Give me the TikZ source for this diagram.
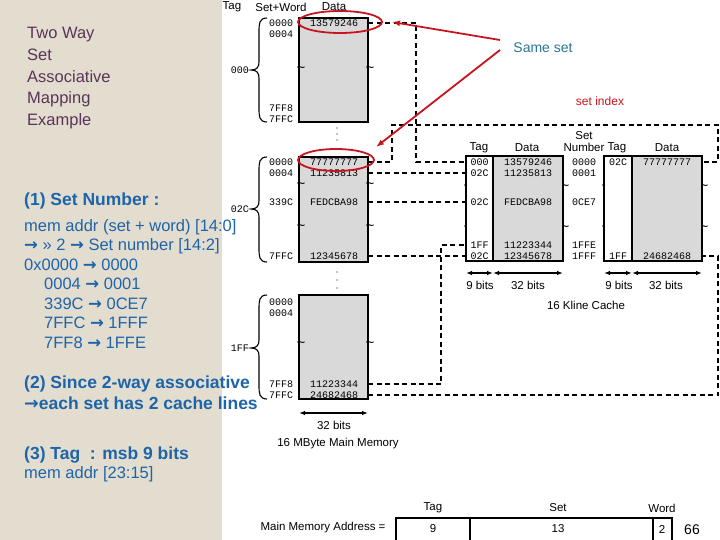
\documentclass[tikz,border=0pt]{standalone}
\usepackage{fontspec}
\setmainfont{Liberation Sans}
\newfontfamily\monof{Liberation Mono}
\newfontfamily\arrf{DejaVu Sans}
\newcommand{\ar}{{\arrf\bfseries →}}
\usetikzlibrary{arrows.meta}
\definecolor{beige}{HTML}{E3DDD0}
\definecolor{ttl}{HTML}{5A3458}
\definecolor{blu}{HTML}{1E64A8}
\definecolor{tealc}{HTML}{2C7590}
\definecolor{redc}{HTML}{C8141E}
\definecolor{blkfill}{HTML}{D9D9D9}
\tikzset{
 mem/.style={draw,line width=1.3pt,fill=blkfill,inner sep=0pt},
 tagbox/.style={draw,line width=1.3pt,fill=white,inner sep=0pt},
 mono/.style={font=\monof\fontsize{10}{10}\selectfont,inner sep=0pt},
 lbl/.style={font=\fontsize{11.5}{12}\selectfont,inner sep=0pt},
 dl/.style={dashed,dash pattern=on 5pt off 3.5pt,line width=1.3pt},
 wid/.style={{Latex[length=6pt]}-{Latex[length=6pt]},line width=1.3pt},
 til/.style={font=\fontsize{15}{15}\selectfont,inner sep=0pt},
 bt/.style={text=blu,font=\fontsize{16.5}{19.5}\selectfont,inner sep=0pt,anchor=west,align=left},
 redline/.style={draw=redc,line width=1.8pt},
}
\begin{document}
\begin{tikzpicture}[x=1pt,y=-1pt]
\useasboundingbox (0,0) rectangle (720,540);
\fill[beige] (0,0) rectangle (222,540);
% title
\node[text=ttl,font=\fontsize{16.5}{21.8}\selectfont,align=left,anchor=north west,inner sep=0pt] (title) at (27,27) {Two Way\\Set\\Associative\\Mapping\\Example};
% left text
\node[bt,font=\bfseries\fontsize{17.5}{20}\selectfont] (t1) at (24,201) {(1) Set Number :};
\node[bt,anchor=north west] (t1b) at (24,219) {mem addr (set + word) [14:0]\\\ar{} >> 2 \ar{} Set number [14:2]\\0x0000 \ar{} 0000\\\hspace{20pt}0004 \ar{} 0001\\\hspace{20pt}339C \ar{} 0CE7\\\hspace{20pt}7FFC \ar{} 1FFF\\\hspace{20pt}7FF8 \ar{} 1FFE};
\node[bt,anchor=north west,font=\bfseries\fontsize{17.5}{21}\selectfont] (t2) at (24,376) {(2) Since 2-way associative\\\ar{}each set has 2 cache lines};
\node[bt,font=\bfseries\fontsize{17.5}{20}\selectfont] (t3) at (24,455) {(3) Tag \ : msb 9 bits};
\node[bt] (t3b) at (24,474) {mem addr [23:15]};
% main memory headers
\node[lbl] (hT) at (232,7) {Tag};
\node[lbl] (hSW) at (281,7) {Set+Word};
\node[lbl] (hD) at (334,7) {Data};
% blocks
\node[mem,minimum width=69pt,minimum height=104pt] (b1) at (333.5,70) {};
\node[mem,minimum width=69pt,minimum height=105pt] (b2) at (333.5,209.5) {};
\node[mem,minimum width=69pt,minimum height=104pt] (b3) at (333.5,347) {};
% braces
\foreach \ya/\yb/\ym/\t [count=\i] in {18/122/70/000,157/262/209/02C,295/399/348/1FF}{
 \draw[line width=1.1pt] (267,\ya) .. controls (259,\ya) and (259,\ya+6) .. (259,\ya+14) -- (259,\ym-8) .. controls (259,\ym-3) and (257,\ym) .. (251,\ym) .. controls (257,\ym) and (259,\ym+3) .. (259,\ym+8) -- (259,\yb-14) .. controls (259,\yb-6) and (259,\yb) .. (267,\yb);
 \node[mono,anchor=east] (br\i) at (249,\ym) {\t};
}
% address labels
\foreach \y/\t in {23/0000,34/0004,108/7FF8,119/7FFC,162/0000,173/0004,202/339C,256/7FFC,302/0000,313/0004,384/7FF8,395/7FFC}
 \node[mono,anchor=west] at (269,\y) {\t};
% data in blocks
\foreach \y/\t in {23/13579246,162/77777777,173/11235813,202/FEDCBA98,256/12345678,384/11223344,395/24682468}
 \node[mono] at (334,\y) {\t};
% tildes
\foreach \x/\y in {299/67,368/67,299/183,368/183,299/225,368/225,299/342,368/342,466/185,563/185,604/185,702/185,466/226,563/226,604/226,702/226}
 \node[til] at (\x+2,\y+3) {\textasciitilde};
% dots
\foreach \y in {128,134,140,272,280,288} \fill (337,\y) circle (0.7);
% memory width
\coordinate (mw1) at (299,413); \coordinate (mw2) at (368,413);
\draw[wid] (mw1) -- (mw2);
\node[lbl] (m32) at (334,425) {32 bits};
\node[lbl] (mmcap) at (338,444) {16 MByte Main Memory};
% cache
\node[tagbox,minimum width=27pt,minimum height=105pt] (ct1) at (479.5,208.5) {};
\node[mem,minimum width=70pt,minimum height=105pt] (cd1) at (528,208.5) {};
\node[tagbox,minimum width=28pt,minimum height=105pt] (ct2) at (618,208.5) {};
\node[mem,minimum width=70pt,minimum height=105pt] (cd2) at (667,208.5) {};
\node[lbl] at (479,148) {Tag};
\node[lbl] at (527,148) {Data};
\node[lbl,align=center,font=\fontsize{11.5}{12}\selectfont] at (584,142) {Set\\Number};
\node[lbl] at (617,148) {Tag};
\node[lbl] at (667,148) {Data};
\foreach \y/\ta/\da/\s in {162/000/13579246/0000,173/02C/11235813/0001,202/02C/FEDCBA98/0CE7,245/1FF/11223344/1FFE,256/02C/12345678/1FFF}{
 \node[mono] at (479.5,\y) {\ta};
 \node[mono] at (528,\y) {\da};
 \node[mono] at (584,\y) {\s};
}
\node[mono] at (618,162) {02C};
\node[mono] at (667,162) {77777777};
\node[mono] at (618,256) {1FF};
\node[mono] at (667,256) {24682468};
\draw[wid] (466,273) -- (493,273);
\draw[wid] (493,273) -- (563,273);
\draw[wid] (604,273) -- (632,273);
\draw[wid] (632,273) -- (702,273);
\node[lbl] at (480,285) {9 bits};
\node[lbl] at (528,285) {32 bits};
\node[lbl] at (619,285) {9 bits};
\node[lbl] at (666,285) {32 bits};
\node[lbl] (kc) at (586,305) {16 Kline Cache};
% connector end coordinates
\coordinate (a1) at (368,23); \coordinate (c1) at (466,162);
\coordinate (a2) at (368,162); \coordinate (c2) at (702,162);
\coordinate (a3) at (368,173); \coordinate (c3) at (466,173);
\coordinate (a4) at (368,202); \coordinate (c4) at (466,202);
\coordinate (a5) at (368,256); \coordinate (c5) at (466,256);
\coordinate (a6) at (368,384); \coordinate (c6) at (466,245);
\coordinate (a7) at (368,395); \coordinate (c7) at (702,256);
\draw[dl] (a1) -| (416,162) -- (c1);
\draw[dl] (a2) -| (392,125) -| (718,162) -- (c2);
\draw[dl] (a3) -- (c3);
\draw[dl] (a4) -- (c4);
\draw[dl] (a5) -- (c5);
\draw[dl] (a6) -| (441,245) -- (c6);
\draw[dl] (a7) -| (718,256) -- (c7);
% red annotations
\draw[redline] (340,22) ellipse (42 and 11);
\draw[redline] (336,160) ellipse (38 and 11);
\node[text=tealc,font=\fontsize{14}{15}\selectfont,inner sep=0pt] (same) at (543,48) {Same set};
\draw[redline,-{Latex[length=8pt]}] (500,40) -- (392,22);
\draw[redline,-{Latex[length=8pt]}] (500,50) -- (376,147);
\node[text=redc,font=\fontsize{12}{13}\selectfont,inner sep=0pt] (si) at (600,101) {set index};
% address bar
\node[lbl,font=\fontsize{11.5}{12}\selectfont] (mma) at (323,528) {Main Memory Address =};
\draw[line width=1.3pt] (396,518) rectangle (672,540.5);
\draw[line width=1.3pt] (470,518) -- (470,540) (653,518) -- (653,540);
\node[lbl] at (433,508) {Tag};
\node[lbl] at (558,508) {Set};
\node[lbl] at (662,508) {Word};
\node[lbl] at (433,529) {9};
\node[lbl] at (558,529) {13};
\node[lbl] at (662,529) {2};
\node[lbl,font=\fontsize{14}{15}\selectfont] at (692,530) {66};
\end{tikzpicture}
\end{document}
